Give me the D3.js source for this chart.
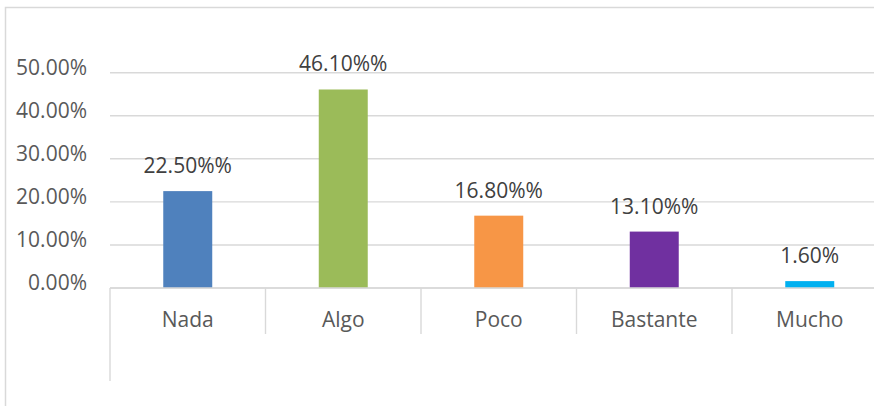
<!DOCTYPE html>
<html>
<head>
<meta charset="utf-8">
<script src="https://cdn.jsdelivr.net/npm/d3@7"></script>
<style>
  html, body { margin: 0; padding: 0; background: #fff; }
  svg { display: block; }
</style>
</head>
<body>
<svg id="chart" width="874" height="406"></svg>
<script>
const categories = ["Nada", "Algo", "Poco", "Bastante", "Mucho"];
const values = [0.225, 0.461, 0.168, 0.131, 0.016];
const valueLabels = ["22.50%%", "46.10%%", "16.80%%", "13.10%%", "1.60%"];
const colors = ["#4F81BD", "#9BBB59", "#F79646", "#7030A0", "#00B0F0"];
const yTicks = [0, 0.1, 0.2, 0.3, 0.4, 0.5];

const svg = d3.select("#chart");
const font = "'Open Sans', sans-serif";
const gridColor = "#d9d9d9";

// chart border
svg.append("rect")
  .attr("x", 5.5).attr("y", 7.5).attr("width", 900).attr("height", 500)
  .attr("fill", "none").attr("stroke", gridColor).attr("stroke-width", 1.5);

const left = 110, catW = 155.5;
const x = d3.scaleBand().domain(categories).range([left, left + catW * categories.length]).padding(0);
const y = d3.scaleLinear().domain([0, 0.5]).range([288, 72.7]);

// gridlines
svg.append("g").selectAll("line").data(yTicks).join("line")
  .attr("x1", left).attr("x2", 874)
  .attr("y1", d => y(d)).attr("y2", d => y(d))
  .attr("stroke", gridColor).attr("stroke-width", 1.4);

// y tick labels
svg.append("g").selectAll("text").data(yTicks).join("text")
  .attr("x", 87).attr("y", d => y(d) - 3.5)
  .attr("text-anchor", "end").attr("dominant-baseline", "middle")
  .attr("font-family", font).attr("font-size", 21).attr("fill", "#595959")
  .text(d => d3.format(".2%")(d));

// bars
const barW = x.bandwidth() * 0.315;
svg.append("g").selectAll("rect").data(values).join("rect")
  .attr("x", (d, i) => x(categories[i]) + x.bandwidth() / 2 - barW / 2)
  .attr("y", d => y(d))
  .attr("width", barW)
  .attr("height", d => y(0) - y(d))
  .attr("fill", (d, i) => colors[i]);

// data labels
svg.append("g").selectAll("text").data(values).join("text")
  .attr("x", (d, i) => x(categories[i]) + x.bandwidth() / 2)
  .attr("y", d => y(d) - 18)
  .attr("text-anchor", "middle")
  .attr("font-family", font).attr("font-size", 21).attr("fill", "#404040")
  .text((d, i) => valueLabels[i]);

// axis line (base)
svg.append("line")
  .attr("x1", left).attr("x2", 874).attr("y1", y(0)).attr("y2", y(0))
  .attr("stroke", gridColor).attr("stroke-width", 1.4);

// category separators
const bounds = categories.map(c => x(c)).slice(1).concat([left + catW * categories.length]);
svg.append("g").selectAll("line").data(bounds).join("line")
  .attr("x1", d => d).attr("x2", d => d)
  .attr("y1", y(0)).attr("y2", 334)
  .attr("stroke", gridColor).attr("stroke-width", 1.4);

// left axis line extending down
svg.append("line")
  .attr("x1", left).attr("x2", left).attr("y1", y(0)).attr("y2", 381)
  .attr("stroke", gridColor).attr("stroke-width", 1.4);

// category labels
svg.append("g").selectAll("text").data(categories).join("text")
  .attr("x", d => x(d) + x.bandwidth() / 2)
  .attr("y", 327)
  .attr("text-anchor", "middle")
  .attr("font-family", font).attr("font-size", 21).attr("fill", "#595959")
  .text(d => d);
</script>
</body>
</html>
